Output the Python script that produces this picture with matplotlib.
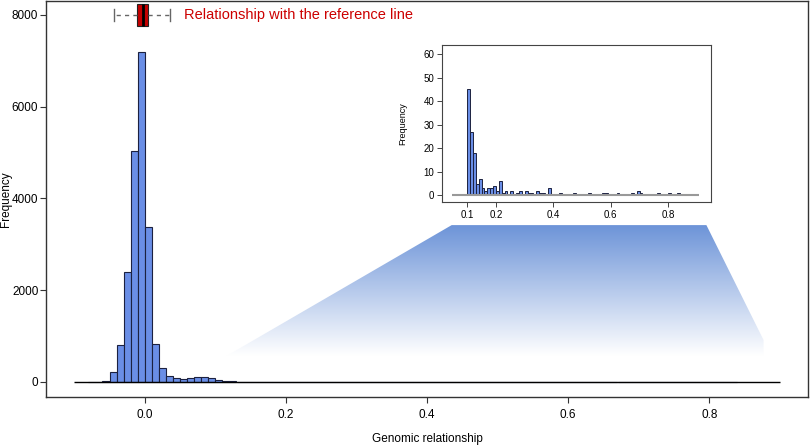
import matplotlib
matplotlib.use('Agg')
import matplotlib.pyplot as plt
import matplotlib.patches as patches
from matplotlib.colors import LinearSegmentedColormap
import numpy as np

plt.rcParams['font.family'] = ['Liberation Sans', 'DejaVu Sans']

# Data: histogram of genomic relationships (bin width 0.01)
bin_width = 0.01
main_start = -0.08
main_counts = [1, 3, 20, 220, 810, 2400, 5030, 7200, 3370, 820,
               305, 140, 85, 62, 88, 108, 105, 80]
tail_start = 0.10
tail_counts = [45, 27, 18, 5, 7, 3, 2, 3, 3, 4,
               2, 6, 1, 2, 0, 2, 0, 1, 2, 0,
               2, 1, 1, 0, 2, 1, 1, 0, 3, 0,
               0, 0, 1, 0, 0, 0, 0, 1, 0, 0,
               0, 0, 1, 0, 0, 0, 0, 1, 1, 0,
               0, 0, 1, 0, 0, 0, 0, 1, 0, 2,
               1, 0, 0, 0, 0, 0, 1, 0, 0, 0,
               1, 0, 0, 1]

# boxplot summary of relationship with the reference line
ref_stats = dict(whislo=-0.0435, q1=-0.0104, med=-0.003, q3=0.0047, whishi=0.0355)
ref_label = 'Relationship with the reference line'

main_xticks = [0.0, 0.2, 0.4, 0.6, 0.8]
main_yticks = [0, 2000, 4000, 6000, 8000]
inset_xticks = [0.1, 0.2, 0.4, 0.6, 0.8]
inset_yticks = [0, 10, 20, 30, 40, 50, 60]

bar_color = '#6a8ee6'
edge_color = '#1c2140'
frame_color = '#333333'

all_counts = main_counts + tail_counts
all_left = main_start + bin_width * np.arange(len(all_counts))
tail_left = tail_start + bin_width * np.arange(len(tail_counts))

fig = plt.figure(figsize=(8.1, 4.46), dpi=100)
ax = fig.add_axes([46 / 810, 1 - 397 / 446, 762 / 810, 396 / 446])

# gradient "zoom" wedge from the tail to the inset
cmap = LinearSegmentedColormap.from_list(
    'fade', [(0, 'white'), (0.06, 'white'), (1, '#6d94d8')])
grad = np.linspace(1, 0, 256).reshape(-1, 1)
im = ax.imshow(grad, extent=[0.09, 0.88, 400, 3420], aspect='auto', cmap=cmap,
               origin='upper', zorder=0.5, interpolation='bilinear')
wedge = patches.Polygon([(0.435, 3420), (0.796, 3420), (0.877, 915),
                         (0.877, 400), (0.097, 400)], closed=True,
                        transform=ax.transData, facecolor='none', edgecolor='none')
ax.add_patch(wedge)
im.set_clip_path(wedge)

# main histogram
ax.bar(all_left, all_counts, width=bin_width, align='edge', color=bar_color,
       edgecolor=edge_color, linewidth=0.8, zorder=2)
ax.hlines(0, -0.1, 0.9, color='black', linewidth=1, zorder=3)

# boxplot at the top
ax.bxp([ref_stats], positions=[8000], widths=500, capwidths=250,
       orientation='horizontal', showfliers=False, patch_artist=True,
       boxprops=dict(facecolor='#c40000', edgecolor='#222222', linewidth=0.8),
       medianprops=dict(color='black', linewidth=2),
       whiskerprops=dict(color='#666666', linestyle=(0, (3, 3)), linewidth=1),
       capprops=dict(color='#666666', linewidth=1), manage_ticks=False, zorder=3)
ax.text(0.0555, 8000, ref_label, color='#cc0000', fontsize=10.5,
        ha='left', va='center')

ax.set_xlim(-0.140, 0.940)
ax.set_ylim(-327, 8305)
ax.set_xticks(main_xticks)
ax.set_xticklabels([f'{t:.1f}' for t in main_xticks])
ax.set_yticks(main_yticks)
ax.tick_params(labelsize=8.5, length=4, width=0.8, color=frame_color, pad=5)
ax.tick_params(axis='y', pad=1.5)
for s in ax.spines.values():
    s.set_color(frame_color)
    s.set_linewidth(1)
ax.set_ylabel('Frequency', fontsize=8.5, va='center')
ax.yaxis.set_label_coords(-0.0525, 0.5)
ax.set_xlabel('Genomic relationship', fontsize=8.5)
ax.xaxis.set_label_coords(0.5, -0.091)

# inset with the tail above 0.1
axin = fig.add_axes([442 / 810, 1 - 202 / 446, 269 / 810, 157 / 446])
axin.bar(tail_left, tail_counts, width=bin_width, align='edge', color=bar_color,
         edgecolor=edge_color, linewidth=0.7, zorder=2)
axin.hlines(0, 0.048, 0.906, color='#999999', linewidth=1.5, zorder=3)
axin.set_xlim(0.012, 0.949)
axin.set_ylim(-2.85, 63.8)
axin.set_xticks(inset_xticks)
axin.set_xticklabels([f'{t:.1f}' for t in inset_xticks])
axin.set_yticks(inset_yticks)
axin.tick_params(labelsize=7, length=3.5, width=0.7, color='#444444', pad=2)
for s in axin.spines.values():
    s.set_color('#444444')
    s.set_linewidth(0.8)
axin.set_ylabel('Frequency', fontsize=6.5, va='center')
axin.yaxis.set_label_coords(-0.145, 0.5)

fig.savefig('out.png', dpi=100)
plt.close()
